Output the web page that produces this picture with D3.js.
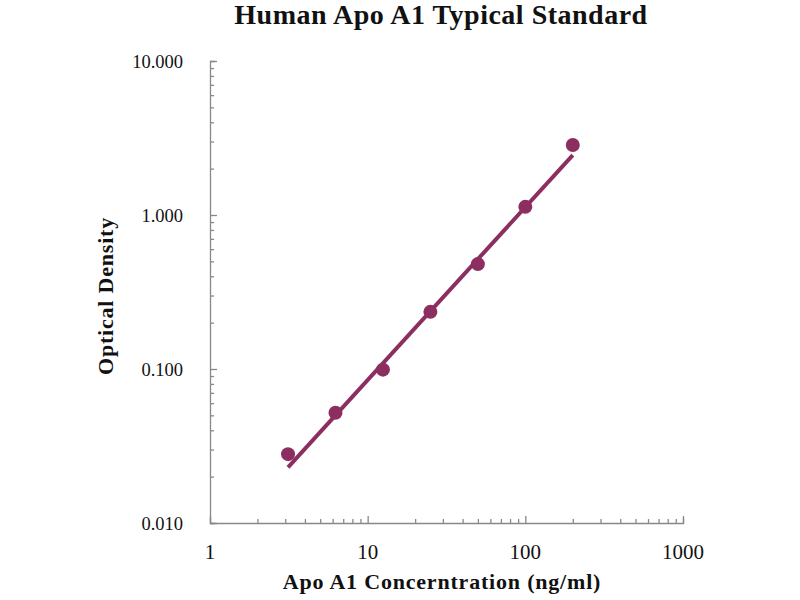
<!DOCTYPE html>
<html>
<head>
<meta charset="utf-8">
<script src="https://cdn.jsdelivr.net/npm/d3@7"></script>
<style>
  body { margin: 0; background: #fff; }
  svg text { font-family: "Liberation Serif", "Times New Roman", serif; fill: #111; }
</style>
</head>
<body>
<svg id="chart" width="800" height="600"></svg>
<script>
// standard curve points (concentration ng/ml, OD)
const concentrations = [3.125, 6.25, 12.5, 25, 50, 100, 200];
const odValues = [0.028, 0.052, 0.099, 0.235, 0.48, 1.13, 2.85];

// trendline end points as drawn
const fitX = [3.125, 200];
const fitY = [0.023, 2.45];

const xTicks = [1, 10, 100, 1000];
const yTicks = [0.01, 0.1, 1, 10];

const svg = d3.select('#chart');
const color = '#8c2f60';

// plot area
const plotLeft = 210, plotRight = 683, plotTop = 61, plotBottom = 523;

const x = d3.scaleLog().domain([1, 1000]).range([plotLeft, plotRight]);
const y = d3.scaleLog().domain([0.01, 10]).range([plotBottom, plotTop]);

// axes - ticks point inward like the excel chart
const xAxis = d3.axisTop(x)
  .tickValues(d3.range(1, 4).flatMap(p => d3.range(1, 10).map(m => m * Math.pow(10, p - 1))).concat([1000]))
  .tickSize(5)
  .tickFormat('');
const yAxis = d3.axisRight(y)
  .tickValues(d3.range(-2, 1).flatMap(p => d3.range(1, 10).map(m => m * Math.pow(10, p))).concat([10]))
  .tickSize(5)
  .tickFormat('');

svg.append('g')
  .attr('transform', `translate(0,${plotBottom})`)
  .call(xAxis)
  .call(g => g.selectAll('path, line').attr('stroke', '#888').attr('stroke-width', 1.3))
  .call(g => g.selectAll('.tick line').attr('y2', d => xTicks.includes(d) ? -7 : -4));

svg.append('g')
  .attr('transform', `translate(${plotLeft},0)`)
  .call(yAxis)
  .call(g => g.selectAll('path, line').attr('stroke', '#888').attr('stroke-width', 1.3))
  .call(g => g.selectAll('.tick line').attr('x2', d => yTicks.includes(d) ? 7 : 4));

// tick labels
svg.append('g').selectAll('text')
  .data(xTicks)
  .join('text')
  .attr('x', d => x(d))
  .attr('y', 559)
  .attr('text-anchor', 'middle')
  .style('font-size', '21px')
  .text(d => d);

svg.append('g').selectAll('text')
  .data(yTicks)
  .join('text')
  .attr('x', 183)
  .attr('y', d => y(d) + 7)
  .attr('text-anchor', 'end')
  .style('font-size', '18.5px')
  .text(d => d3.format('.3f')(d));

// fit line
svg.append('path')
  .datum(d3.zip(fitX, fitY))
  .attr('d', d3.line().x(d => x(d[0])).y(d => y(d[1])))
  .attr('fill', 'none')
  .attr('stroke', color)
  .attr('stroke-width', 4);

// data points
svg.append('g').selectAll('circle')
  .data(d3.zip(concentrations, odValues))
  .join('circle')
  .attr('cx', d => x(d[0]))
  .attr('cy', d => y(d[1]))
  .attr('r', 7)
  .attr('fill', color);

// titles
svg.append('text')
  .attr('x', 441).attr('y', 24)
  .attr('text-anchor', 'middle')
  .style('font-size', '28px').style('font-weight', 'bold')
  .style('letter-spacing', '0.5px')
  .text('Human Apo A1 Typical Standard');

svg.append('text')
  .attr('x', 442).attr('y', 589)
  .attr('text-anchor', 'middle')
  .style('font-size', '22px').style('font-weight', 'bold')
  .style('letter-spacing', '0.8px')
  .text('Apo A1 Concerntration (ng/ml)');

svg.append('text')
  .attr('transform', 'translate(113,296) rotate(-90)')
  .attr('text-anchor', 'middle')
  .style('font-size', '22px').style('font-weight', 'bold')
  .style('letter-spacing', '0.8px')
  .text('Optical Density');
</script>
</body>
</html>
